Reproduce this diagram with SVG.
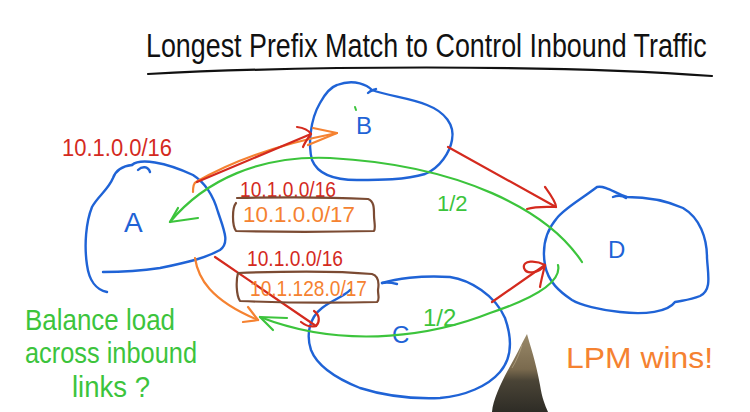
<svg xmlns="http://www.w3.org/2000/svg" width="750" height="412" viewBox="0 0 750 412">
<defs>
<style>
.hw{font-family:"Liberation Sans",Arial,sans-serif;}
.blob{fill:none;stroke:#1f63d6;stroke-width:2.4;stroke-linecap:round;stroke-linejoin:round;}
.red{fill:none;stroke:#d42a1e;stroke-width:2.2;stroke-linecap:round;stroke-linejoin:round;}
.org{fill:none;stroke:#f58231;stroke-width:2.2;stroke-linecap:round;stroke-linejoin:round;}
.grn{fill:none;stroke:#3cc43c;stroke-width:2.2;stroke-linecap:round;stroke-linejoin:round;}
.brn{fill:none;stroke:#7b4b33;stroke-width:2.2;stroke-linecap:round;stroke-linejoin:round;}
.tred{fill:#d42a1e;}
.torg{fill:#f58231;}
.tgrn{fill:#3cc43c;}
.tblu{fill:#1f63d6;}
</style>
<linearGradient id="pen" x1="0" y1="0" x2="0" y2="1">
<stop offset="0" stop-color="#9a8a6a"/>
<stop offset="0.45" stop-color="#7a6a4e"/>
<stop offset="0.6" stop-color="#4a4436"/>
<stop offset="1" stop-color="#2e2c26"/>
</linearGradient>
</defs>
<rect width="750" height="412" fill="#ffffff"/>

<!-- title -->
<g id="title">
<text class="hw" transform="translate(146,57) scale(0.79,1)" x="0" y="0" font-size="34" fill="#111">Longest Prefix Match to Control Inbound Traffic</text>
<path d="M148,74 C300,66 550,64 712,76" fill="none" stroke="#111" stroke-width="2.2" stroke-linecap="round"/>
</g>

<!-- nodes -->
<g id="node-A">
<path class="blob" d="M132,165 C140,158 165,162 193,175 C207,184 214,198 218,212 C224,230 230,243 220,250 C205,258 190,262 160,268 C140,271 120,272 103,272"/>
<path class="blob" d="M132,165 C122,166 116,170 113,178 C108,190 98,196 92,207 C86,222 84,245 87,265 C89,280 96,290 107,292"/>
<path class="blob" d="M138,170 C142,166 148,166 150,172"/>
<text class="hw tblu" x="124" y="232" font-size="28">A</text>
</g>

<g id="node-B">
<path class="blob" d="M337,85 C355,78 368,86 372,90 C388,96 410,98 427,105 C445,112 455,125 452,140 C450,152 440,168 425,174 C405,180 380,180 357,180 C335,180 318,175 312,160 C308,145 310,120 320,103 C326,92 331,87 337,85 Z"/>
<path class="blob" d="M368,93 C371,90 374,90 376,89"/>
<text class="hw tblu" x="356" y="134" font-size="24">B</text>
<path d="M355,107 L356,110" stroke="#3cc43c" stroke-width="2" stroke-linecap="round"/>
</g>

<g id="node-C">
<path class="blob" d="M382,283 C395,279 420,275 450,277 C470,280 495,295 505,318 C512,338 512,358 500,372 C488,386 465,396 440,398 C415,399 385,396 360,388 C340,380 318,368 311,350 C306,335 309,318 322,308 C332,300 345,296 350,290"/>
<path class="blob" d="M382,283 C388,282 393,283 397,284"/>
<text class="hw tblu" x="392" y="343" font-size="24">C</text>
</g>

<g id="node-D">
<path class="blob" d="M597,187 C606,185 616,194 627,197 C645,197 665,200 683,208 C700,218 707,238 707,258 C708,275 712,290 700,296 C690,300 685,300 675,302 C668,312 645,315 620,312 C600,310 580,305 572,300 C560,292 548,282 545,265 C542,248 545,232 557,218 C565,208 580,200 597,187 Z"/>
<path class="blob" d="M613,197 C618,195 622,195 626,198"/>
<text class="hw tblu" x="608" y="258" font-size="24">D</text>
</g>

<!-- connectors -->
<g id="connectors">
<!-- orange A -> B -->
<path class="org" d="M193,192 C193,186 194,183 196,182 C220,168 260,148 337,133"/>
<path class="org" d="M313,128 L337,133 L308,145"/>
<!-- red A -> B -->
<path class="red" d="M197,182 L311,134"/>
<path class="red" d="M297,127 C305,128 309,131 311,134 C308,138 305,142 303,147"/>
<!-- red B -> D -->
<path class="red" d="M448,147 L556,207"/>
<path class="red" d="M545,187 C550,194 556,202 556,207 C548,207 537,206 527,209"/>
<!-- orange A -> C -->
<path class="org" d="M195,258 C198,278 210,300 258,320"/>
<path class="org" d="M248,307 L258,320 L243,322"/>
<!-- red A -> C -->
<path class="red" d="M215,257 L316,326"/>
<path class="red" d="M314,311 C320,315 320,322 316,326 C312,327 306,326 301,322"/>
<!-- red C -> D -->
<path class="red" d="M492,302 L545,265"/>
<path class="red" d="M545,265 C536,260 522,260 524,268 C527,276 540,272 545,265 C543,273 541,281 540,287"/>
<!-- green D -> A (top) -->
<path class="grn" d="M582,262 C548,210 460,165 330,158 C260,155 205,180 170,222"/>
<path class="grn" d="M178,208 L170,222 L198,218"/>
<!-- green D -> A via C (bottom) -->
<path class="grn" d="M558,265 C562,282 535,298 490,313 C440,333 350,352 260,317"/>
<path class="grn" d="M287,318 L260,317 L273,330"/>
</g>

<!-- route announcements -->
<g id="box-B">
<text class="hw tred" x="240" y="197" font-size="22" textLength="96" lengthAdjust="spacingAndGlyphs">10.1.0.0/16</text>
<path class="brn" d="M237,198 C280,197 330,197 368,199 C374,201 374,208 374,215 C374,222 376,228 374,231 C330,232 280,232 236,231 C232,225 232,208 236,203"/>
<text class="hw torg" x="243" y="222" font-size="22" textLength="112" lengthAdjust="spacingAndGlyphs">10.1.0.0/17</text>
</g>

<g id="box-C">
<text class="hw tred" x="247" y="266" font-size="22" textLength="96" lengthAdjust="spacingAndGlyphs">10.1.0.0/16</text>
<path class="brn" d="M238,273 C290,271 340,271 372,274 C379,276 379,284 378,290 C378,296 380,300 377,302 C340,303 290,303 240,301 C236,295 236,280 238,273"/>
<text class="hw torg" x="250" y="296" font-size="22" textLength="117" lengthAdjust="spacingAndGlyphs">10.1.128.0/17</text>
</g>

<g id="labels">
<text class="hw tred" x="62" y="156" font-size="23" textLength="110" lengthAdjust="spacingAndGlyphs">10.1.0.0/16</text>
<text class="hw tgrn" x="437" y="211" font-size="22">1/2</text>
<text class="hw tgrn" x="423" y="326" font-size="24">1/2</text>
<text class="hw tgrn" x="25" y="330" font-size="30" textLength="150" lengthAdjust="spacingAndGlyphs">Balance load</text>
<text class="hw tgrn" x="25" y="363" font-size="30" textLength="172" lengthAdjust="spacingAndGlyphs">across inbound</text>
<text class="hw tgrn" x="72" y="397" font-size="30" textLength="78" lengthAdjust="spacingAndGlyphs">links ?</text>
<text class="hw torg" x="566" y="368" font-size="30" textLength="147" lengthAdjust="spacingAndGlyphs">LPM wins!</text>
</g>

<!-- pen -->
<g id="pen-shape">
<path d="M527,334 C530,345 536,362 540,385 C542,398 545,405 548,412 L492,412 C493,400 500,385 508,370 C515,358 521,345 527,334 Z" fill="url(#pen)"/>
<path d="M522,345 C520,352 516,362 512,368" stroke="#bfb090" stroke-width="1" fill="none" opacity="0.6"/>
</g>
</svg>
